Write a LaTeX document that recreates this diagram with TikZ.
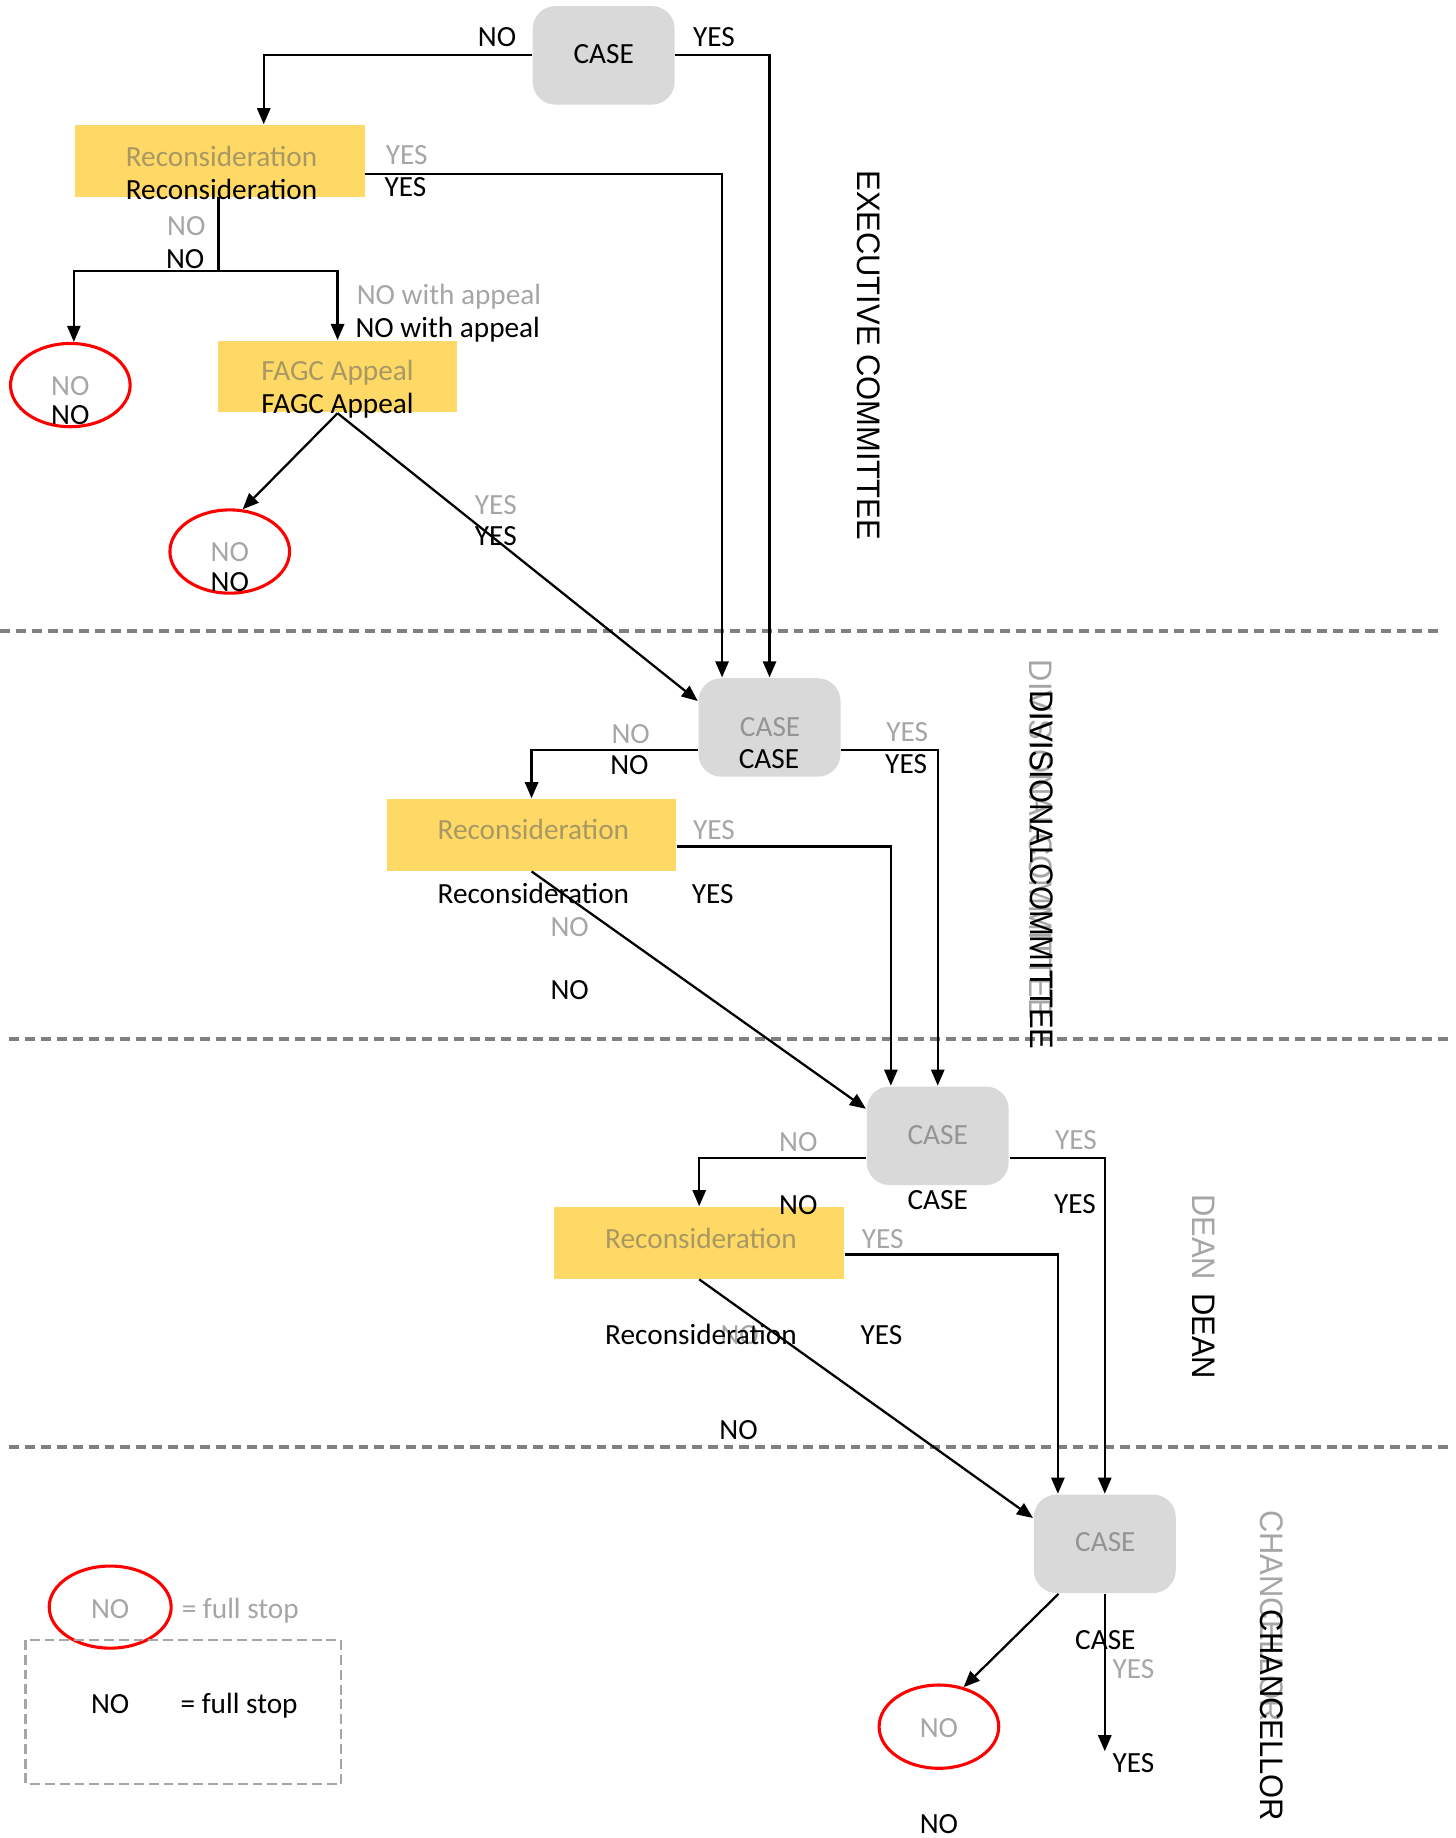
\documentclass[tikz,border=0pt]{standalone}
\usepackage{fontspec}
\setmainfont{Carlito}
\newfontfamily\lanefont[FakeStretch=0.95]{Liberation Sans}
\usetikzlibrary{shapes.geometric, arrows.meta, calc}

\definecolor{caseFill}{RGB}{217,217,217}
\definecolor{reconFill}{RGB}{255,217,102}
\definecolor{greyInk}{RGB}{166,166,166}
\definecolor{caseInk}{RGB}{148,148,148}
\definecolor{reconInk}{RGB}{168,152,100}
\definecolor{laneGrey}{RGB}{128,128,128}
\definecolor{keyGrey}{RGB}{166,166,166}

\tikzset{
    casebox/.style = {
        rectangle, 
        fill=caseFill, 
        rounded corners=5.5pt, 
        minimum width=1.21cm, 
        minimum height=0.84cm, 
        inner sep=0pt
    },
    reconbox/.style = {
        rectangle, 
        fill=reconFill, 
        minimum width=2.47cm, 
        minimum height=0.61cm, 
        inner sep=0pt
    },
    stopring/.style = {
        ellipse, 
        draw=red, 
        line width=0.75pt, 
        minimum width=1.02cm, 
        minimum height=0.71cm, 
        inner sep=0pt
    },
    line/.style = {
        draw, 
        line width=0.55pt
    },
    arrow/.style = {
        line, 
        -{Triangle[length=3.9pt, width=3.2pt]}
    },
    greytxt/.style = {text=greyInk, anchor=base, inner sep=0pt},
    blacktxt/.style = {text=black, anchor=base, inner sep=0pt},
    lane/.style = {font=\lanefont\fontsize{7.9}{9}\selectfont, rotate=-90, inner sep=0pt},
    divider/.style = {draw=laneGrey, line width=0.97pt, dash pattern=on 2.4pt off 1.45pt}
}

\begin{document}
\begin{tikzpicture}[
    x=0.01cm, y=-0.01cm, % y runs downwards
    font=\fontsize{7.1}{8.5}\selectfont
]
\useasboundingbox (0,0) rectangle (1242,1568);

% Level dividers
\draw[divider] (0,538) -- (1228,538);
\foreach \ylev in {886,1234}
    \draw[divider] (8,\ylev) -- (1235,\ylev);

% Executive committee
\node [casebox] (case1) at (515,47.2) {};
\node [reconbox] (recon1) at (187.5,137.2) {};
\node [reconbox, minimum width=2.04cm] (fagc) at (288,321.3) {};
\node [stopring] (stop1) at (60,328.5) {};
\node [stopring] (stop2) at (196,470.5) {};
\coordinate (split1) at (186.5,231);

% Divisional committee
\node [casebox] (case2) at (656.5,620.6) {};
\node [reconbox] (recon2) at (453.5,712.2) {};

% Dean
\node [casebox] (case3) at (800,968.9) {};
\node [reconbox] (recon3) at (596.5,1060.2) {};

% Chancellor
\node [casebox] (case4) at (942.5,1317) {};
\node [stopring] (stop3) at (801,1473) {};
\coordinate (yesEnd) at (942.5,1494);

% Connections
\draw [arrow] (case1.west) -| ($(recon1.north)+(37.5,0)$);
\draw [arrow] (case1.east) -| (case2.north);
\draw [arrow] ($(recon1.east)+(0,11.3)$) -| ($(case2.north)+(-40.5,0)$);
\draw [line] (recon1.south -| split1) -- (split1);
\draw [arrow] (split1) -| ($(stop1.north)+(3,0)$);
\draw [arrow] (split1) -| (fagc.north);
\draw [arrow] (fagc.south) -- (stop2.73);
\draw [arrow] (fagc.south) -- ($(case2.west)+(0,-22.6)$);

\draw [arrow] ($(case2.west)+(0,19.2)$) -| (recon2.north);
\draw [arrow] ($(case2.east)+(0,19.2)$) -| (case3.north);
\draw [arrow] ($(recon2.east)+(0,10)$) -| ($(case3.north)+(-40,0)$);
\draw [arrow] (recon2.south) -- ($(case3.west)+(0,-23)$);

\draw [arrow] ($(case3.west)+(0,19)$) -| (recon3.north);
\draw [arrow] ($(case3.east)+(0,19)$) -| (case4.north);
\draw [arrow] ($(recon3.east)+(0,10)$) -| ($(case4.north)+(-40,0)$);
\draw [arrow] (recon3.south) -- ($(case4.west)+(0,-22)$);

\draw [arrow] ($(case4.south)+(-39.5,0)$) -- (stop3.58);
\draw [arrow] (case4.south) -- (yesEnd);

% Executive labels
\node [blacktxt] (case1txt) at (515,54) {CASE};
\node [blacktxt] (no1) at (424,39.8) {NO};
\node [blacktxt] (yes1) at (609,39.8) {YES};
\node [greytxt, text=reconInk] (recon1grey) at (189,142) {Reconsideration};
\node [blacktxt] (recon1txt) at (189,170.6) {Reconsideration};
\node [greytxt] (yes2grey) at (347,140) {YES};
\node [blacktxt] (yes2) at (346,167.8) {YES};
\node [greytxt] (no2grey) at (159,201) {NO};
\node [blacktxt] (no2) at (158,229) {NO};
\node [greytxt] (appealgrey) at (383,260) {NO with appeal};
\node [blacktxt] (appeal) at (382,288) {NO with appeal};
\node [greytxt, text=reconInk] (fagcgrey) at (288,324.7) {FAGC Appeal};
\node [blacktxt] (fagctxt) at (288,352.6) {FAGC Appeal};
\node [greytxt] (stop1grey) at (60,337) {NO};
\node [blacktxt] (stop1txt) at (60,362.5) {NO};
\node [greytxt] (stop2grey) at (196,479) {NO};
\node [blacktxt] (stop2txt) at (196,504.7) {NO};
\node [greytxt] (yes3grey) at (423,439) {YES};
\node [blacktxt] (yes3) at (423,465) {YES};

% Divisional labels
\node [greytxt, text=caseInk] (case2grey) at (657,628.4) {CASE};
\node [blacktxt] (case2txt) at (656,655.4) {CASE};
\node [greytxt] (no4grey) at (538,634.6) {NO};
\node [blacktxt] (no4) at (537,661) {NO};
\node [greytxt] (yes4grey) at (774,632.7) {YES};
\node [blacktxt] (yes4) at (773,659.7) {YES};
\node [greytxt, text=reconInk] (recon2grey) at (455,716.5) {Reconsideration};
\node [blacktxt] (recon2txt) at (455,770.6) {Reconsideration};
\node [greytxt] (yes5grey) at (609,716.5) {YES};
\node [blacktxt] (yes5) at (608,770.6) {YES};
\node [greytxt] (no5grey) at (486,798.5) {NO};
\node [blacktxt] (no5) at (486,853) {NO};

% Dean labels
\node [greytxt, text=caseInk] (case3grey) at (800,976.7) {CASE};
\node [blacktxt] (case3txt) at (800,1031.6) {CASE};
\node [greytxt] (no6grey) at (681,982.4) {NO};
\node [blacktxt] (no6) at (681,1036.4) {NO};
\node [greytxt] (yes6grey) at (918,981) {YES};
\node [blacktxt] (yes6) at (917,1035) {YES};
\node [greytxt, text=reconInk] (recon3grey) at (598,1064.9) {Reconsideration};
\node [greytxt] (no7grey) at (631,1147) {NO};
\node [blacktxt] (recon3txt) at (598,1147.3) {Reconsideration};
\node [greytxt] (yes7grey) at (753,1064.9) {YES};
\node [blacktxt] (yes7) at (752,1147.3) {YES};
\node [blacktxt] (no7) at (630,1228.4) {NO};

% Chancellor labels
\node [greytxt, text=caseInk] (case4grey) at (943,1323.6) {CASE};
\node [blacktxt] (case4txt) at (943,1406.9) {CASE};
\node [greytxt] (yes8grey) at (967,1431.7) {YES};
\node [blacktxt] (yes8) at (967,1512) {YES};
\node [greytxt] (stop3grey) at (801,1482) {NO};
\node [blacktxt] (stop3txt) at (801,1563.9) {NO};

% Level names
\node [lane] (execlane) at (741,303) {EXECUTIVE COMMITTEE};
\node [lane, text=greyInk] (divlanegrey) at (888,716) {DIVISIONALCOMMITTEE};
\node [lane] (divlane) at (889,742) {DIVISIONALCOMMITTEE};
\node [lane, text=greyInk] (deanlanegrey) at (1027,1055.5) {DEAN};
\node [lane] (deanlane) at (1027,1140) {DEAN};
\node [lane, text=greyInk] (chanlanegrey) at (1085,1378.5) {CHANCELLOR};
\node [lane] (chanlane) at (1085,1463.5) {CHANCELLOR};

% Key
\node [stopring, minimum width=1.04cm, minimum height=0.7cm] (keyring) at (94,1371) {};
\node [greytxt] (keynogrey) at (94,1380.5) {NO};
\node [greytxt] (keystopgrey) at (205,1380.5) {= full stop};
\draw [draw=keyGrey, line width=0.65pt, dash pattern=on 2.4pt off 1.2pt] (22,1399) rectangle (291,1522);
\node [blacktxt] (keyno) at (94,1461.5) {NO};
\node [blacktxt] (keystop) at (204,1461.5) {= full stop};

\end{tikzpicture}
\end{document}
